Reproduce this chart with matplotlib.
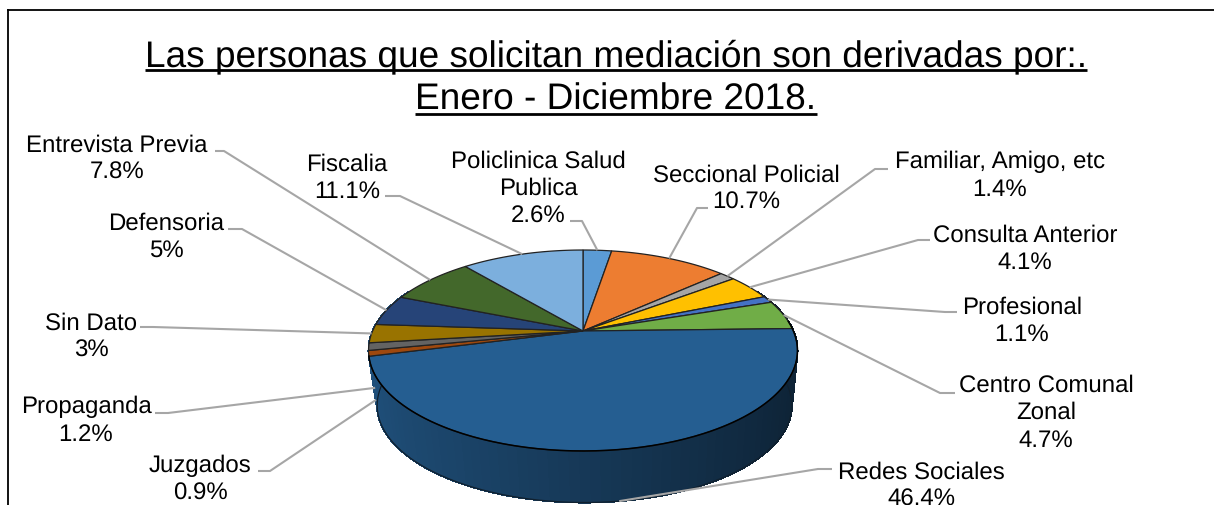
import matplotlib
matplotlib.use("Agg")
import matplotlib.pyplot as plt
import numpy as np
from matplotlib.patches import Polygon

plt.rcParams["font.family"] = ["Liberation Sans", "DejaVu Sans"]
plt.rcParams["text.hinting"] = "no_hinting"
plt.rcParams["text.hinting_factor"] = 1

# datos
categorias = ["Policlinica Salud\nPublica", "Seccional Policial", "Familiar, Amigo, etc",
              "Consulta Anterior", "Profesional", "Centro Comunal\nZonal", "Redes Sociales",
              "Juzgados", "Propaganda", "Sin Dato", "Defensoria", "Entrevista Previa", "Fiscalia"]
valores = [2.6, 10.7, 1.4, 4.1, 1.1, 4.7, 46.4, 0.9, 1.2, 3, 5, 7.8, 11.1]
colores = ["#5B9BD5", "#ED7D31", "#A5A5A5", "#FFC000", "#4472C4", "#70AD47", "#255E91",
           "#9E480E", "#636363", "#997300", "#264478", "#43682B", "#7CAFDD"]

# layout in pixels
label_xy = [(538, 189), (746, 189), (1000, 176), (1025, 249), (1022, 321), (1046, 413), (921, 486),
            (200, 480), (86, 421), (91, 337), (166, 237), (117, 159), (347, 178)]
codos = [[(570, 222), (582, 222)], [(708, 209), (697, 209)], [(888, 170), (875, 170)],
         [(930, 241), (918, 241)], [(957, 313), (945, 313)], [(955, 394), (940, 394)],
         [(832, 470), (818, 470)], [(258, 472), (270, 472)], [(155, 414), (168, 414)],
         [(140, 328), (153, 328)], [(228, 230), (242, 230)], [(215, 152), (224, 152)],
         [(385, 197), (400, 197)]]
caida = [0, 0, 0, 0, 0, 0, 1, 0.85, 0.75, 0, 0, 0, 0]

fig = plt.figure(figsize=(12.14, 5.06), dpi=100)
ax = fig.add_axes([0, 0, 1, 1])
ax.set_xlim(0, 1214)
ax.set_ylim(506, 0)
ax.axis("off")

# 3d look: the pie circle goes through a perspective projection
k = 0.194


def borde(ang, cx=583, cy=332, a=210.4, b=96.7):
    x = np.sin(ang)
    y = np.cos(ang)
    return cx + a * x / (1 + k * y), cy - b * y / (1 + k * y)


def borde_abajo(ang):
    return borde(ang, cx=584.5, cy=387.5, a=203.4, b=93.5)


total = sum(valores)
cortes = np.cumsum([0] + valores) / total * 2 * np.pi

# side wall, only the big slice shows at the front
base = np.array(matplotlib.colors.to_rgb(colores[6]))
angs = np.linspace(np.pi / 2 - 0.45, 3 * np.pi / 2 + 0.45, 100)
for j in range(len(angs) - 1):
    a0, a1 = angs[j], angs[j + 1]
    x0, y0 = borde(a0)
    x1, y1 = borde(a1)
    x2, y2 = borde_abajo(a1)
    x3, y3 = borde_abajo(a0)
    # right side dark, left side lighter
    f = np.clip(0.6 - 0.24 * np.sin((a0 + a1) / 2), 0, 1)
    ax.add_patch(Polygon([(x0, y0), (x1, y1), (x2, y2), (x3, y3)], closed=True,
                         fc=base * f, ec=base * f, lw=0.8, antialiased=False, zorder=2))

# outline of the wall
ax.plot(*borde_abajo(angs), color="#10202e", lw=0.9, zorder=3)
arco = np.linspace(np.pi / 2 - 0.1, cortes[7], 200)
ax.plot(*borde(arco), color="black", lw=1.1, zorder=5)

# top of the pie
for i in range(len(valores)):
    arco = np.linspace(cortes[i], cortes[i + 1], 80)
    xs, ys = borde(arco)
    pts = [(583, 332)] + list(zip(xs, ys))
    ax.add_patch(Polygon(pts, closed=True, fc=colores[i], ec="#222222", lw=0.9, zorder=4))

# leaders and labels
for i in range(len(valores)):
    medio = (cortes[i] + cortes[i + 1]) / 2
    x0, y0 = borde(medio)
    x1, y1 = borde_abajo(medio)
    xf = x0 + caida[i] * (x1 - x0)
    yf = y0 + caida[i] * (y1 - y0)
    xs = [codos[i][0][0], codos[i][1][0], xf]
    ys = [codos[i][0][1], codos[i][1][1], yf]
    ax.plot(xs, ys, color="#A6A6A6", lw=1.5, zorder=6, solid_capstyle="butt")
    ax.text(label_xy[i][0], label_xy[i][1], f"{categorias[i]}\n{valores[i]}%", ha="center", va="center",
            fontsize=17.2, color="black", linespacing=1.3, zorder=7)

# title
t1 = ax.text(616, 57, "Las personas que solicitan mediación son derivadas por:.", ha="center", va="center",
             fontsize=26.95, color="black")
t2 = ax.text(616, 100, "Enero - Diciembre 2018.", ha="center", va="center", fontsize=26.95, color="black")
fig.canvas.draw()
inv = ax.transData.inverted()
for t, yl in [(t1, 70.5), (t2, 115)]:
    bb = t.get_window_extent()
    xa = inv.transform((bb.x0, bb.y0))[0]
    xb = inv.transform((bb.x1, bb.y0))[0]
    ax.plot([xa, xb], [yl, yl], color="black", lw=2, solid_capstyle="butt")

# frame (image is cut at the bottom and the right)
ax.plot([8, 8], [506, 10.5], color="black", lw=1.3)
ax.plot([8, 1214], [10.5, 10.5], color="black", lw=1.3)

fig.savefig("out.png", dpi=100)
